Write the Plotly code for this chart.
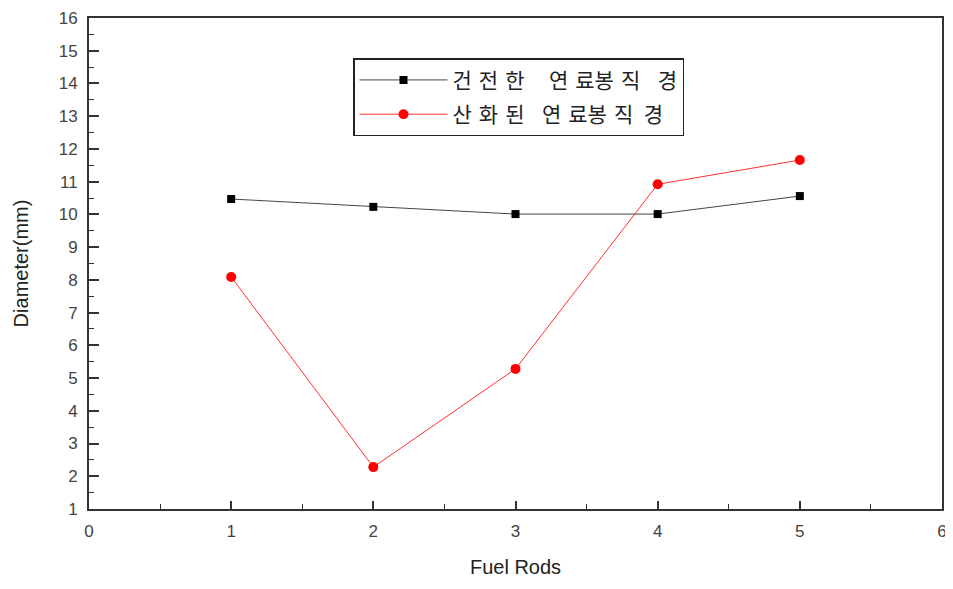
import plotly.graph_objects as go

fuel_rods = [1, 2, 3, 4, 5]
healthy_diameter = [10.47, 10.23, 10.01, 10.01, 10.56]
oxidized_diameter = [8.09, 2.28, 5.28, 10.92, 11.66]
S, E = "\u2004", "\u2002"
healthy_name = "건" + S + "전" + S + "한" + E + S + S + "연" + S + "료봉" + S + "직" + E + S + "경"
oxidized_name = "산" + S + "화" + S + "된" + E + S + "연" + S + "료봉" + S + "직" + E + "경"

fig = go.Figure()
fig.add_trace(go.Scatter(
    x=fuel_rods, y=healthy_diameter, mode="lines+markers", name=healthy_name,
    line=dict(color="#444444", width=1),
    marker=dict(symbol="square", size=8, color="black"),
    legendgroup="a"))
fig.add_trace(go.Scatter(
    x=fuel_rods, y=oxidized_diameter, mode="lines+markers", name=oxidized_name,
    line=dict(color="#ff3030", width=1),
    marker=dict(symbol="circle", size=10, color="#ff0000"),
    legendgroup="b"))

axis_font = dict(family="Liberation Sans, Arial, sans-serif", size=17, color="#444444")
title_font = dict(family="Liberation Sans, Arial, sans-serif", size=20, color="#222222")
fig.update_layout(
    width=945, height=570,
    margin=dict(l=81, r=11, t=10, b=69),
    paper_bgcolor="white", plot_bgcolor="white",
    font=dict(family="Liberation Sans, Arial, sans-serif", color="#222222"),
    legend=dict(
        x=0.3095, y=0.918, xanchor="left", yanchor="top",
        bordercolor="#222222", borderwidth=1.5, bgcolor="white",
        font=dict(family="Noto Sans CJK KR, sans-serif", size=21, color="#222222"),
        tracegroupgap=4, itemwidth=88,
    ),
    xaxis=dict(
        range=[0, 6], tickmode="linear", tick0=0, dtick=1, automargin=False,
        ticks="inside", ticklen=8, tickwidth=1.5, tickcolor="#333333",
        minor=dict(ticks="inside", ticklen=5, dtick=0.5, tickcolor="#333333", tickwidth=1),
        showgrid=False, zeroline=False,
        showline=True, linecolor="#333333", linewidth=2, mirror=True,
        tickfont=axis_font, ticklabelstandoff=6,
        title=dict(text="Fuel Rods", font=title_font, standoff=22),
    ),
    yaxis=dict(
        range=[1, 16], tickmode="linear", tick0=1, dtick=1, automargin=False,
        ticks="inside", ticklen=10, tickwidth=1.5, tickcolor="#333333",
        minor=dict(ticks="inside", ticklen=5, dtick=0.5, tickcolor="#333333", tickwidth=1),
        showgrid=False, zeroline=False,
        showline=True, linecolor="#333333", linewidth=2, mirror=True,
        tickfont=axis_font, ticklabelstandoff=6,
        title=dict(text="Diameter(mm)", font=title_font, standoff=25),
    ),
)
fig.write_html("out.html")
